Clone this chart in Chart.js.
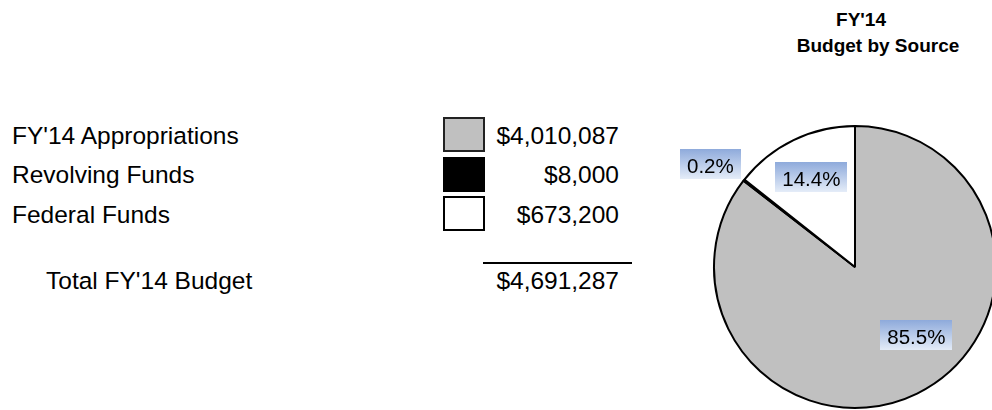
<!DOCTYPE html>
<html>
<head>
<meta charset="utf-8">
<script src="https://cdn.jsdelivr.net/npm/chart.js@4"></script>
<style>
  html, body { margin: 0; padding: 0; width: 992px; height: 410px; overflow: hidden; background: #fff; }
  body { position: relative; font-family: "Liberation Sans", Arial, sans-serif; color: #000; }
  #pie { position: absolute; left: 0; top: 0; }
  .title { position: absolute; width: 240px; font-weight: bold; font-size: 19px; line-height: 22px; text-align: center; white-space: nowrap; }
  .cell { position: absolute; font-size: 24.5px; line-height: 28px; white-space: nowrap; }
  .num { text-align: right; width: 200px; }
  .swatch { position: absolute; box-sizing: border-box; width: 42px; height: 35px; }
  .rule { position: absolute; left: 483px; width: 149px; top: 262px; height: 2px; background: #000; }
</style>
</head>
<body>
<div class="title" style="left:741px; top:9px;">FY'14</div>
<div class="title" style="left:758px; top:35px;">Budget by Source</div>
<div id="table"></div>
<canvas id="pie" width="1000" height="410"></canvas>
<script>
const sources = ["FY'14 Appropriations", "Revolving Funds", "Federal Funds"];
const budgetValues = [4010087, 8000, 673200];
const totalLabel = "Total FY'14 Budget";

// styles kept apart from the data
const sliceColors = ["#c0c0c0", "#000000", "#ffffff"];
const swatchBorders = ["2px solid #222", "none", "2px solid #000"];
const LABEL_ANGLE = [48, 215.5, null];   // degrees, null = slice middle
const LABEL_RADIUS = [0.65, 1.26, 0.71]; // fraction of outer radius

const total = budgetValues.reduce((a, b) => a + b, 0);
const money = (v) => "$" + v.toLocaleString("en-US");

function buildTable() {
  const host = document.getElementById("table");
  const rowTop = 121.8, rowStep = 39.5;
  let html = "";
  sources.forEach((name, i) => {
    const top = rowTop + i * rowStep;
    html += '<div class="cell" style="left:12px; top:' + top + 'px">' + name + '</div>';
    html += '<div class="swatch" style="left:443px; top:' + (top - 4.5) + 'px; background:' +
      sliceColors[i] + '; border:' + swatchBorders[i] + '"></div>';
    html += '<div class="cell num" style="left:419px; top:' + top + 'px">' + money(budgetValues[i]) + '</div>';
  });
  html += '<div class="rule"></div>';
  html += '<div class="cell" style="left:46px; top:266.7px">' + totalLabel + '</div>';
  html += '<div class="cell num" style="left:419px; top:266.7px">' + money(total) + '</div>';
  host.innerHTML = html;
}

const pctLabels = {
  id: "pctLabels",
  afterDatasetsDraw(chart) {
    const ctx = chart.ctx;
    const meta = chart.getDatasetMeta(0);
    ctx.save();
    ctx.font = '20.5px "Liberation Sans", Arial, sans-serif';
    ctx.textAlign = "center";
    ctx.textBaseline = "alphabetic";
    meta.data.forEach((arc, i) => {
      const p = arc.getProps(["x", "y", "startAngle", "endAngle", "outerRadius"], true);
      const ang = LABEL_ANGLE[i] != null ? LABEL_ANGLE[i] * Math.PI / 180 : (p.startAngle + p.endAngle) / 2;
      const d = LABEL_RADIUS[i] * p.outerRadius;
      const cx = p.x + Math.cos(ang) * d;
      const cy = p.y + Math.sin(ang) * d;
      const text = (budgetValues[i] / total * 100).toFixed(1) + "%";
      const w = ctx.measureText(text).width + 14;
      const h = 30;
      const g = ctx.createLinearGradient(0, cy - h / 2, 0, cy + h / 2);
      g.addColorStop(0, "#8eaadb");
      g.addColorStop(1, "#e4ecf8");
      ctx.fillStyle = g;
      ctx.fillRect(Math.round(cx - w / 2), Math.round(cy - h / 2), Math.round(w), h);
      ctx.fillStyle = "#000";
      ctx.fillText(text, cx, cy + 8.8);
    });
    ctx.restore();
  },
};

buildTable();

new Chart(document.getElementById("pie").getContext("2d"), {
  type: "pie",
  data: {
    labels: sources,
    datasets: [{
      data: budgetValues,
      backgroundColor: sliceColors,
      borderColor: "#000",
      borderWidth: 2,
    }],
  },
  options: {
    responsive: false,
    animation: false,
    layout: { padding: { left: 713, top: 125, right: 3, bottom: 1 } },
    plugins: {
      legend: { display: false },
      tooltip: { enabled: false },
    },
  },
  plugins: [pctLabels],
});
</script>
</body>
</html>
